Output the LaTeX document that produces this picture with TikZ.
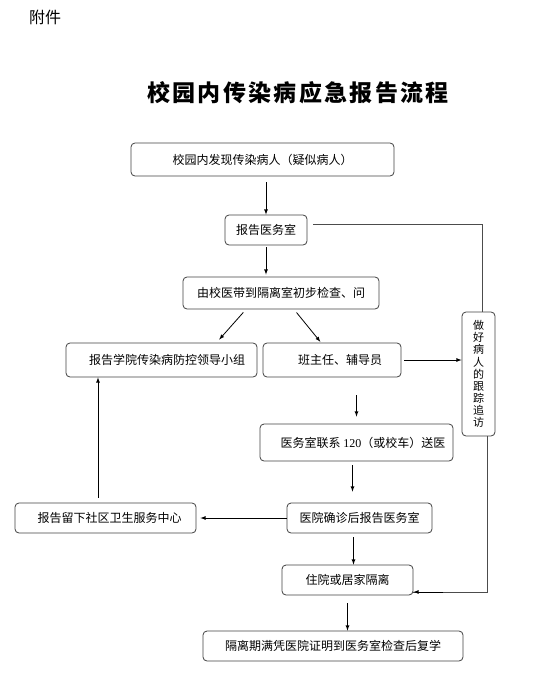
\documentclass[tikz,border=0pt]{standalone}
\usepackage{fontspec}
\setmainfont{Noto Sans CJK SC}
\newfontfamily\titlefont{Noto Sans CJK SC}[LetterSpace=10]
\newfontfamily\numfont{Liberation Serif}

\tikzstyle{box}=[draw=black!75, line width=0.8pt, rounded corners=4pt, inner sep=0pt, font=\fontsize{12}{12}\selectfont]
\tikzstyle{arrow}=[line width=0.8pt, -latex]
\tikzstyle{link}=[line width=0.8pt, black!70]

\begin{document}
\begin{tikzpicture}[x=1pt, y=-1pt]
      \useasboundingbox (0,0) rectangle (554,693);

      \node (annex) at (45,17) {\fontsize{16}{16}\selectfont 附件};
      \node (title) at (298,93) {\titlefont\bfseries\fontsize{23}{23}\selectfont 校园内传染病应急报告流程};

      \node[box, minimum width=263pt, minimum height=33pt] (find) at (262.5,159.5) {校园内发现传染病人（疑似病人）};
      \node[box, minimum width=82pt, minimum height=30pt] (report) at (266,230) {报告医务室};
      \node[box, minimum width=196pt, minimum height=32pt] (check) at (281,293) {由校医带到隔离室初步检查、问};
      \node[box, minimum width=191pt, minimum height=34pt] (leader) at (161.5,360) {\hspace{11pt}报告学院传染病防控领导小组};
      \node[box, minimum width=138pt, minimum height=34pt] (teacher) at (332,360) {\hspace{16pt}班主任、辅导员};
      \node[box, minimum width=33pt, minimum height=124pt, align=center, font=\fontsize{11}{12.1}\selectfont] (track) at (478.5,374)
        {做\\好\\病\\人\\的\\跟\\踪\\追\\访};
      \node[box, minimum width=193pt, minimum height=37pt] (send) at (356.5,442.5) {\hspace{13pt}医务室联系 {\numfont 120}（或校车）送医};
      \node[box, minimum width=145pt, minimum height=30pt] (confirm) at (359.5,518) {医院确诊后报告医务室};
      \node[box, minimum width=181pt, minimum height=30pt] (community) at (105.5,518) {\hspace{8pt}报告留下社区卫生服务中心};
      \node[box, minimum width=131pt, minimum height=30pt] (isolate) at (347.5,580) {住院或居家隔离\hspace{13pt}};
      \node[box, minimum width=260pt, minimum height=30pt] (back) at (333,646) {隔离期满凭医院证明到医务室检查后复学\hspace{11pt}};

      \draw[arrow, shorten <=6pt] (report.north |- find.south) -- (report.north);
      \draw[arrow, shorten <=2pt, shorten >=2pt] (report.south) -- (report.south |- check.north);
      \draw[arrow, shorten <=4pt, shorten >=4pt] ([xshift=-35pt]check.south) -- ([xshift=55pt]leader.north);
      \draw[arrow, shorten <=4pt, shorten >=1pt] ([xshift=13pt]check.south) -- ([xshift=-11pt]teacher.north);
      \draw[arrow, shorten <=3pt] (teacher.east) -- (track.west |- teacher.east);
      \draw[arrow, shorten <=18pt, shorten >=7pt] (send.north |- teacher.south) -- (send.north);
      \draw[arrow, shorten <=4pt, shorten >=11pt] ([xshift=-4pt]send.south) -- ([xshift=-4pt]send.south |- confirm.north);
      \draw[arrow, shorten >=4pt] (confirm.west) -- (community.east);
      \draw[arrow, shorten <=5pt] ([xshift=-7.5pt]community.north) -- ([xshift=-7.5pt]community.north |- leader.south);
      \draw[arrow, shorten <=4pt] ([xshift=-6pt]confirm.south) -- ([xshift=-6pt]confirm.south |- isolate.north);
      \draw[arrow, shorten <=8pt] (isolate.south) -- (isolate.south |- back.north);

      \draw[link] ([xshift=6pt, yshift=6pt]report.east) -| ([xshift=4pt]track.north);
      \draw[link] ([xshift=8.5pt]track.south) |- ([yshift=-12pt]isolate.east);
      \draw[arrow] ([xshift=30pt, yshift=-12pt]isolate.east) -- ([yshift=-12pt]isolate.east);
    \end{tikzpicture}
\end{document}
